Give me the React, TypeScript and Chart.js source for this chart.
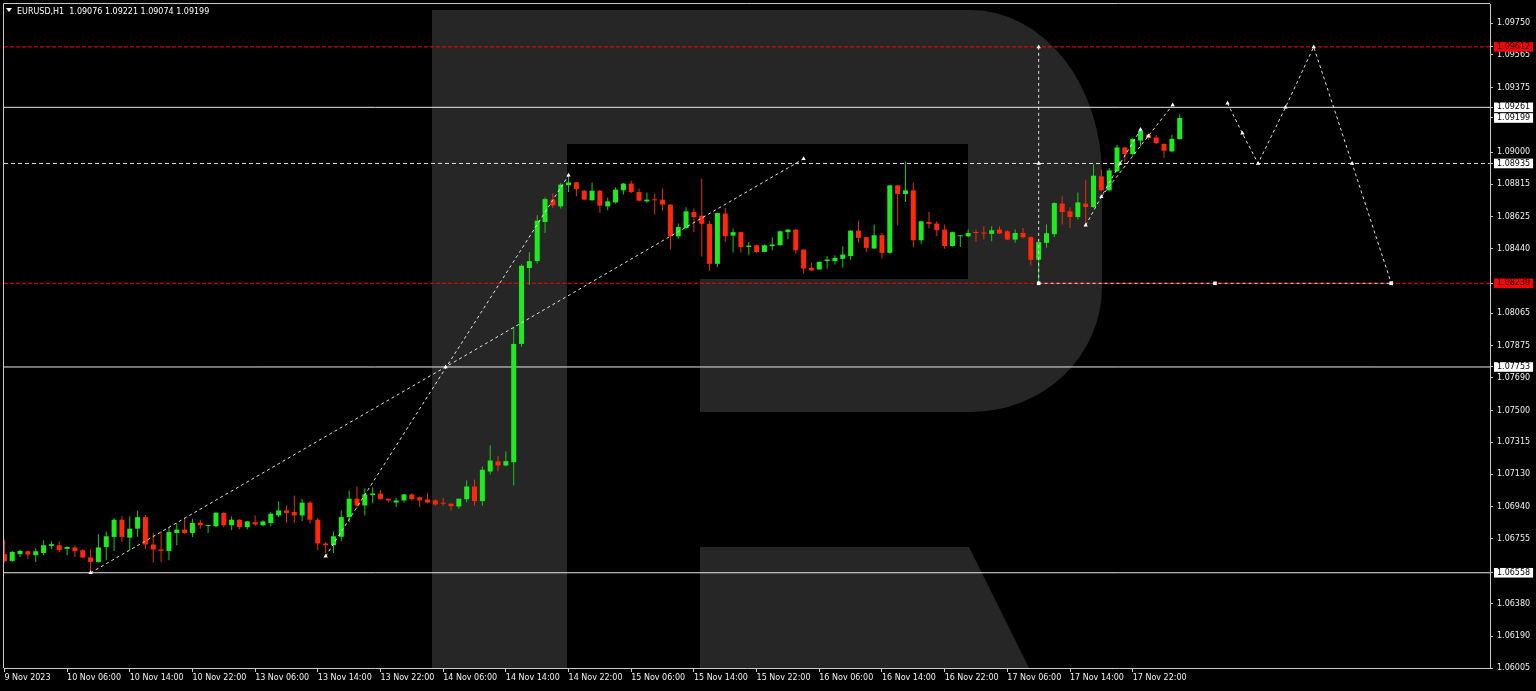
import React, { useEffect, useRef } from 'react';
import { Chart, registerables } from 'chart.js';

Chart.register(...registerables);

// ---------------- data ----------------
const symbol = 'EURUSD';
const timeframe = 'H1';

const opens = [
  1.06666, 1.06627, 1.06666, 1.06683, 1.0666, 1.06673, 1.06714, 1.06718, 1.06697, 1.06705,
  1.06689, 1.06647, 1.06621, 1.06708, 1.06766, 1.06866, 1.06762, 1.06814, 1.06881, 1.06722,
  1.06693, 1.06685, 1.06789, 1.06809, 1.06789, 1.06849, 1.0683, 1.06828, 1.06905, 1.06834,
  1.06866, 1.06823, 1.06852, 1.06834, 1.06847, 1.06891, 1.0692, 1.06911, 1.06891, 1.06965,
  1.06866, 1.06728, 1.06718, 1.06767, 1.06881, 1.06988, 1.06949, 1.07009, 1.07018, 1.06988,
  1.06966, 1.06978, 1.07013, 1.06997, 1.06984, 1.06978, 1.06962, 1.06959, 1.06943, 1.06985,
  1.07059, 1.06974, 1.07146, 1.07205, 1.07181, 1.072, 1.07887, 1.08328, 1.08368, 1.08595,
  1.08725, 1.08686, 1.08809, 1.08825, 1.08777, 1.08721, 1.08777, 1.08686, 1.08709, 1.08779,
  1.08818, 1.08769, 1.08715, 1.08725, 1.08725, 1.08696, 1.08512, 1.0856, 1.08653, 1.08632,
  1.08584, 1.08352, 1.08644, 1.08516, 1.08536, 1.0845, 1.0846, 1.08421, 1.08455, 1.0846,
  1.08536, 1.08551, 1.08435, 1.08329, 1.0832, 1.08368, 1.08368, 1.08381, 1.08397, 1.08545,
  1.08507, 1.08441, 1.08518, 1.08416, 1.08808, 1.08757, 1.08779, 1.08489, 1.08595, 1.08586,
  1.08551, 1.08455, 1.08512, 1.08512, 1.08536, 1.08531, 1.08526, 1.08551, 1.08541, 1.08493,
  1.08531, 1.08507, 1.08376, 1.08474, 1.08524, 1.08702, 1.08657, 1.08624, 1.08702, 1.08682,
  1.0886, 1.08779, 1.08889, 1.09028, 1.08989, 1.09068, 1.09101, 1.09086, 1.09049, 1.09005,
  1.09076,
];
const highs = [
  1.06751, 1.06685, 1.06693, 1.06688, 1.067, 1.06747, 1.06741, 1.06741, 1.06712, 1.06718,
  1.06695, 1.06695, 1.06781, 1.06798, 1.06878, 1.06887, 1.06885, 1.0692, 1.06893, 1.06789,
  1.06798, 1.06823, 1.06847, 1.06878, 1.06872, 1.06866, 1.06834, 1.0691, 1.06911, 1.06885,
  1.06868, 1.06858, 1.06891, 1.06863, 1.06911, 1.06974, 1.06949, 1.07007, 1.06988, 1.06974,
  1.06878, 1.06737, 1.06798, 1.0692, 1.07036, 1.07059, 1.07049, 1.07055, 1.0704, 1.0699,
  1.06994, 1.07015, 1.0702, 1.07001, 1.0702, 1.06984, 1.06994, 1.06961, 1.0699, 1.07094,
  1.071, 1.07175, 1.07299, 1.07236, 1.07262, 1.07986, 1.0835, 1.0842, 1.08634, 1.08738,
  1.0876, 1.08821, 1.0886, 1.08827, 1.08779, 1.08825, 1.08779, 1.08738, 1.08796, 1.08821,
  1.08835, 1.08789, 1.08767, 1.0876, 1.08789, 1.08698, 1.08586, 1.0868, 1.08673, 1.08846,
  1.08603, 1.08649, 1.08676, 1.08557, 1.08538, 1.08479, 1.08464, 1.08464, 1.08507, 1.08543,
  1.08553, 1.08553, 1.08437, 1.08358, 1.08366, 1.08397, 1.08402, 1.08454, 1.08547, 1.08603,
  1.08509, 1.0858, 1.08531, 1.08812, 1.0881, 1.08947, 1.08825, 1.08603, 1.08653, 1.08599,
  1.0858, 1.08538, 1.08518, 1.08551, 1.08551, 1.0857, 1.0857, 1.0857, 1.08547, 1.08551,
  1.0856, 1.08512, 1.0848, 1.0858, 1.08709, 1.08744, 1.0868, 1.08767, 1.08841, 1.08931,
  1.08899, 1.08908, 1.09043, 1.0903, 1.09082, 1.09134, 1.09105, 1.09101, 1.09051, 1.09101,
  1.09221,
];
const lows = [
  1.06619, 1.06621, 1.0665, 1.06638, 1.06621, 1.0666, 1.06695, 1.06677, 1.0666, 1.0665,
  1.06641, 1.0656, 1.06618, 1.06631, 1.06685, 1.06737, 1.06689, 1.06766, 1.06695, 1.06617,
  1.06621, 1.06631, 1.06718, 1.06785, 1.06766, 1.06814, 1.06789, 1.06823, 1.06823, 1.06805,
  1.06811, 1.06811, 1.0683, 1.06828, 1.06828, 1.06881, 1.06847, 1.06847, 1.06859, 1.06843,
  1.06689, 1.06672, 1.06673, 1.06741, 1.06851, 1.06932, 1.06891, 1.06962, 1.06983, 1.06966,
  1.0694, 1.06966, 1.06978, 1.0694, 1.06962, 1.06947, 1.06949, 1.0692, 1.0693, 1.06968,
  1.06949, 1.06949, 1.07129, 1.07147, 1.07175, 1.07065, 1.0787, 1.08229, 1.08352, 1.08531,
  1.08676, 1.08673, 1.08769, 1.08744, 1.08721, 1.08719, 1.08647, 1.08663, 1.08702, 1.08754,
  1.08763, 1.08715, 1.08705, 1.08638, 1.08661, 1.08435, 1.08499, 1.08551, 1.08537, 1.08394,
  1.0831, 1.08333, 1.08479, 1.0842, 1.08416, 1.08402, 1.08416, 1.08419, 1.08431, 1.08458,
  1.08497, 1.0841, 1.08294, 1.0831, 1.08316, 1.08323, 1.08348, 1.08329, 1.08373, 1.08474,
  1.08421, 1.08439, 1.08383, 1.0841, 1.08576, 1.08711, 1.08449, 1.08468, 1.08557, 1.08512,
  1.08439, 1.08453, 1.0845, 1.08507, 1.08479, 1.08493, 1.08483, 1.08526, 1.08491, 1.08474,
  1.08499, 1.08342, 1.08244, 1.08445, 1.08507, 1.0858, 1.0856, 1.08609, 1.08589, 1.08676,
  1.08773, 1.08773, 1.08885, 1.08943, 1.08981, 1.09033, 1.09072, 1.09047, 1.08966, 1.09003,
  1.09074,
];
const closes = [
  1.06625, 1.06679, 1.06685, 1.06664, 1.06683, 1.06718, 1.06724, 1.06689, 1.06708, 1.06683,
  1.06647, 1.06621, 1.06705, 1.0677, 1.06866, 1.06766, 1.06814, 1.06881, 1.06722, 1.06693,
  1.06685, 1.06794, 1.06809, 1.06789, 1.06847, 1.06834, 1.06834, 1.06907, 1.06834, 1.06866,
  1.06823, 1.06856, 1.06839, 1.06856, 1.06901, 1.0692, 1.06905, 1.06891, 1.06965, 1.06866,
  1.06728, 1.06718, 1.0677, 1.06881, 1.06988, 1.06949, 1.07013, 1.07018, 1.06985, 1.06978,
  1.06978, 1.07013, 1.06985, 1.06978, 1.06966, 1.06955, 1.06959, 1.06945, 1.06988, 1.07059,
  1.06974, 1.07156, 1.0721, 1.07181, 1.07206, 1.07887, 1.08341, 1.08368, 1.08603, 1.08728,
  1.08692, 1.08812, 1.08825, 1.08786, 1.08725, 1.08777, 1.0869, 1.08715, 1.08783, 1.08818,
  1.08769, 1.08719, 1.08725, 1.08721, 1.08696, 1.08512, 1.08566, 1.08657, 1.08624, 1.08584,
  1.08352, 1.08647, 1.08512, 1.08536, 1.08449, 1.08458, 1.08421, 1.0846, 1.08464, 1.08541,
  1.08551, 1.08431, 1.08325, 1.08314, 1.08364, 1.08377, 1.08387, 1.08406, 1.08545, 1.08503,
  1.08445, 1.08518, 1.08416, 1.08808, 1.08757, 1.08779, 1.08489, 1.08599, 1.08584, 1.08547,
  1.08455, 1.08536, 1.08516, 1.08531, 1.08531, 1.08528, 1.08547, 1.08528, 1.08493, 1.08531,
  1.08507, 1.08375, 1.08478, 1.0853, 1.08705, 1.08653, 1.08624, 1.08709, 1.08682, 1.08864,
  1.08779, 1.08895, 1.09028, 1.08989, 1.09078, 1.09124, 1.09082, 1.09053, 1.09009, 1.09078,
  1.09199,
];

// time axis: bar index of each label and its text
const timeTickIndex = [0, 8, 16, 24, 32, 40, 48, 56, 64, 72, 80, 88, 96, 104, 112, 120, 128, 136, 144];
const timeTickLabels = [
  '9 Nov 2023', '10 Nov 06:00', '10 Nov 14:00', '10 Nov 22:00', '13 Nov 06:00', '13 Nov 14:00',
  '13 Nov 22:00', '14 Nov 06:00', '14 Nov 14:00', '14 Nov 22:00', '15 Nov 06:00', '15 Nov 14:00',
  '15 Nov 22:00', '16 Nov 06:00', '16 Nov 14:00', '16 Nov 22:00', '17 Nov 06:00', '17 Nov 14:00',
  '17 Nov 22:00',
];

// price axis
const priceTicks = [
  1.0975, 1.09565, 1.09375, 1.09, 1.08815, 1.08625, 1.0844, 1.08065, 1.07875, 1.0769,
  1.075, 1.07315, 1.0713, 1.0694, 1.06755, 1.0638, 1.0619, 1.06005,
];
const redLevels = [1.09612, 1.08239];
const whiteLevels = [1.09261, 1.07753, 1.06558];
const dashedWhiteLevels = [1.08935];
const currentPrice = 1.09199;

// analysis / forecast lines (bar index, price)
const trendAX = [11, 56.3, 102];
const trendAY = [1.06558, 1.07753, 1.08962];
const trendBX = [41, 72];
const trendBY = [1.06654, 1.08866];
const targetVX = [132, 132, 132];
const targetVY = [1.09612, 1.08935, 1.08239];
const targetHX = [132, 154.5, 177];
const targetHY = [1.08239, 1.08239, 1.08239];
const riseAX = [138, 140, 142.4, 145];
const riseAY = [1.08576, 1.08742, 1.08935, 1.09132];
const riseBX = [140, 146, 149.1];
const riseBY = [1.08742, 1.09095, 1.09275];
const forecastX = [156.1, 158, 160, 163.5, 167.1, 172, 177];
const forecastY = [1.09285, 1.0911, 1.08935, 1.09261, 1.09612, 1.08935, 1.08239];

// ---------------- view constants ----------------
const X_MIN = -0.05;
const X_MAX = 189.6;
const Y_MIN = 1.06005;
const Y_MAX = 1.09861;

const GREEN = 'rgb(30,235,30)';
const RED = 'rgb(255,40,10)';
const GREEN_WICK = 'rgb(25,200,25)';
const RED_WICK = 'rgb(225,50,10)';
const AXIS = '#c8c8c8';
const TEXT = '#f0f0f0';
const LOGO = 'rgb(38,38,38)';
const FONT = '"DejaVu Sans", "Liberation Sans", sans-serif';

const specialBg: Record<string, string> = {};
redLevels.forEach((v) => (specialBg[v.toFixed(5)] = '#ff0000'));
whiteLevels.forEach((v) => (specialBg[v.toFixed(5)] = '#ffffff'));
dashedWhiteLevels.forEach((v) => (specialBg[v.toFixed(5)] = '#ffffff'));
specialBg[currentPrice.toFixed(5)] = '#ffffff';

const allPriceTicks = [...priceTicks, ...redLevels, ...whiteLevels, ...dashedWhiteLevels, currentPrice].sort(
  (a, b) => a - b
);

const logoPlugin = {
  id: 'logoR',
  beforeDatasetsDraw(chart: any) {
    const { ctx, chartArea: a } = chart;
    ctx.save();
    ctx.beginPath();
    ctx.rect(a.left, a.top, a.right - a.left, a.bottom - a.top);
    ctx.clip();
    ctx.fillStyle = LOGO;
    ctx.fillRect(432, 10, 135, a.bottom - 10);
    ctx.beginPath();
    ctx.moveTo(567, 10);
    ctx.lineTo(971, 10);
    ctx.ellipse(971, 176, 131, 166, 0, -Math.PI / 2, 0, false);
    ctx.lineTo(1102, 287);
    ctx.ellipse(971, 287, 131, 125, 0, 0, Math.PI / 2, false);
    ctx.lineTo(700, 412);
    ctx.lineTo(700, 279);
    ctx.lineTo(968, 279);
    ctx.lineTo(968, 144);
    ctx.lineTo(567, 144);
    ctx.closePath();
    ctx.fill();
    ctx.beginPath();
    ctx.moveTo(700, 547);
    ctx.lineTo(969, 547);
    ctx.lineTo(1029, a.bottom);
    ctx.lineTo(700, a.bottom);
    ctx.closePath();
    ctx.fill();
    ctx.restore();
  },
};

const framePlugin = {
  id: 'frame',
  afterDatasetsDraw(chart: any) {
    const { ctx, chartArea: a } = chart;
    ctx.save();
    ctx.strokeStyle = AXIS;
    ctx.lineWidth = 1;
    ctx.beginPath();
    ctx.moveTo(a.left - 0.5, a.bottom);
    ctx.lineTo(a.left - 0.5, a.top - 0.5);
    ctx.lineTo(a.right, a.top - 0.5);
    ctx.stroke();
    ctx.restore();
  },
};

const headerPlugin = {
  id: 'header',
  afterDraw(chart: any) {
    const { ctx } = chart;
    const n = opens.length - 1;
    const text = `${symbol},${timeframe}  ${opens[n].toFixed(5)} ${highs[n].toFixed(5)} ${lows[n].toFixed(
      5
    )} ${closes[n].toFixed(5)}`;
    ctx.save();
    ctx.fillStyle = '#ffffff';
    ctx.beginPath();
    ctx.moveTo(6, 8);
    ctx.lineTo(12, 8);
    ctx.lineTo(9, 12);
    ctx.closePath();
    ctx.fill();
    ctx.font = `8px ${FONT}`;
    ctx.textBaseline = 'alphabetic';
    ctx.textAlign = 'left';
    ctx.fillText(text, 17, 14);
    ctx.restore();
  },
};

function levelDataset(y: number, color: string, dash: number[]) {
  return {
    type: 'line' as const,
    data: [
      { x: X_MIN, y },
      { x: X_MAX, y },
    ],
    borderColor: color,
    borderWidth: 1,
    borderDash: dash,
    pointRadius: 0,
    order: 6,
  };
}

function pathDataset(xs: number[], ys: number[], styles: string[]) {
  return {
    type: 'line' as const,
    data: xs.map((x, i) => ({ x, y: ys[i] })),
    borderColor: 'rgba(235,235,235,0.95)',
    borderWidth: 1,
    borderDash: [3, 3],
    tension: 0,
    pointRadius: styles.map((s) => (s === 'none' ? 0 : 2.5)),
    pointStyle: styles.map((s) => (s === 'none' ? 'circle' : s)),
    pointBackgroundColor: '#ffffff',
    pointBorderColor: '#ffffff',
    pointBorderWidth: 0,
    order: 1,
  };
}

export default function App() {
  const ref = useRef<HTMLCanvasElement | null>(null);

  useEffect(() => {
    if (!ref.current) return;
    const idx = opens.map((_, i) => i);
    const up = idx.map((i) => closes[i] >= opens[i]);

    const chart = new Chart(ref.current, {
      type: 'bar',
      data: {
        datasets: [
          ...redLevels.map((v) => levelDataset(v, '#ff0000', [4, 2])),
          ...whiteLevels.map((v) => levelDataset(v, '#e8e8e8', [])),
          ...dashedWhiteLevels.map((v) => levelDataset(v, '#e0e0e0', [4, 3])),
          {
            type: 'bar',
            data: idx.map((i) => ({ x: i, y: [lows[i], highs[i]] })),
            backgroundColor: idx.map((i) => (up[i] ? GREEN_WICK : RED_WICK)),
            borderWidth: 0,
            barThickness: 1,
            inflateAmount: 0,
            grouped: false,
            order: 4,
          } as any,
          {
            type: 'bar',
            data: idx.map((i) => ({ x: i, y: [opens[i], closes[i]] })),
            backgroundColor: idx.map((i) => (up[i] ? GREEN : RED)),
            borderWidth: 0,
            barThickness: 5,
            minBarLength: 1,
            inflateAmount: 0,
            grouped: false,
            order: 3,
          } as any,
          pathDataset(trendAX, trendAY, ['triangle', 'triangle', 'triangle']),
          pathDataset(trendBX, trendBY, ['triangle', 'triangle']),
          pathDataset(targetVX, targetVY, ['triangle', 'triangle', 'rect']),
          pathDataset(targetHX, targetHY, ['none', 'rect', 'rect']),
          pathDataset(riseAX, riseAY, ['triangle', 'triangle', 'triangle', 'triangle']),
          pathDataset(riseBX, riseBY, ['none', 'triangle', 'triangle']),
          pathDataset(forecastX, forecastY, ['triangle', 'triangle', 'triangle', 'triangle', 'triangle', 'triangle', 'rect']),
        ] as any,
      },
      options: {
        animation: false,
        responsive: false,
        events: [],
        layout: { padding: { left: 3, top: 2, right: 0, bottom: 0 } },
        plugins: {
          legend: { display: false },
          tooltip: { enabled: false },
          title: { display: false },
        },
        scales: {
          x: {
            type: 'linear',
            min: X_MIN,
            max: X_MAX,
            offset: false,
            grid: { offset: false, drawOnChartArea: false, drawTicks: true, tickLength: 4, color: AXIS },
            border: { display: true, color: AXIS, width: 1 },
            ticks: {
              autoSkip: false,
              maxRotation: 0,
              minRotation: 0,
              align: 'start',
              padding: 1,
              color: TEXT,
              font: { family: FONT, size: 8 },
              callback: (_v: any, i: number) => timeTickLabels[i],
            },
            afterBuildTicks: (s: any) => {
              s.ticks = timeTickIndex.map((v) => ({ value: v }));
            },
            afterFit: (s: any) => {
              s.height = 23;
              s.paddingLeft = 0;
              s.paddingRight = 0;
            },
          },
          y: {
            type: 'linear',
            position: 'right',
            min: Y_MIN,
            max: Y_MAX,
            grid: { drawOnChartArea: false, drawTicks: true, tickLength: 3, color: AXIS },
            border: { display: true, color: AXIS, width: 1 },
            ticks: {
              autoSkip: false,
              padding: 4,
              font: { family: FONT, size: 8, lineHeight: 1.2 },
              color: (c: any) => (specialBg[Number(c.tick?.value).toFixed(5)] ? '#000000' : TEXT),
              showLabelBackdrop: true,
              backdropColor: (c: any) => specialBg[Number(c.tick?.value).toFixed(5)] || 'rgba(0,0,0,0)',
              backdropPadding: { left: 3, right: 3, top: 0, bottom: 0 },
              callback: (v: any) => Number(v).toFixed(5),
            },
            afterBuildTicks: (s: any) => {
              s.ticks = allPriceTicks.map((v) => ({ value: v }));
            },
            afterFit: (s: any) => {
              s.width = 46;
              s.paddingTop = 0;
              s.paddingBottom = 0;
            },
          },
        },
      } as any,
      plugins: [logoPlugin, framePlugin, headerPlugin],
    });
    return () => chart.destroy();
  }, []);

  return (
    <div style={{ position: 'fixed', left: 0, top: 0, width: 1536, height: 691, background: '#000' }}>
      <canvas ref={ref} width={1536} height={691} style={{ display: 'block', width: 1536, height: 691 }} />
    </div>
  );
}
